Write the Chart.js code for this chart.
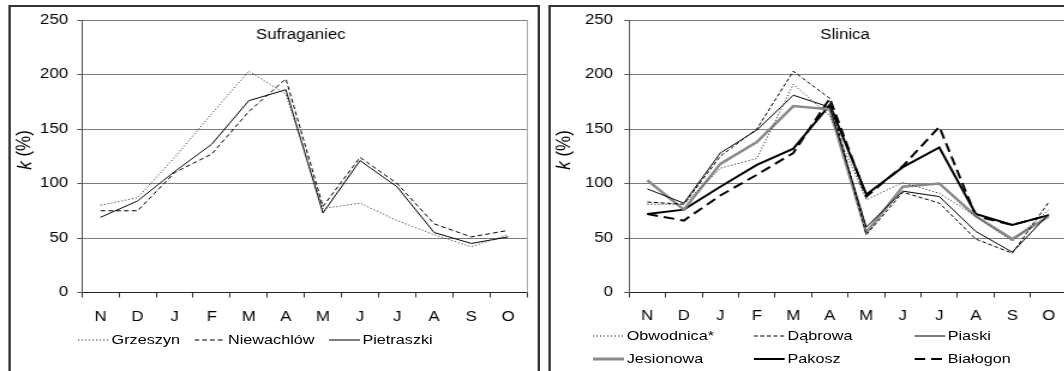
<!DOCTYPE html>
<html lang="pl">
<head>
<meta charset="UTF-8">
<title>k (%) - Sufraganiec, Slinica</title>
<script src="https://cdn.jsdelivr.net/npm/chart.js@4"></script>
<style>
    html, body {
        margin: 0;
        padding: 0;
        background: #fff;
        overflow: hidden;
        width: 1064px;
        height: 371px;
    }
    /* the source figure is stretched sideways, so the whole sheet is too */
    #sheet {
        position: absolute;
        left: 0;
        top: 0;
        width: 900px;
        height: 371px;
        transform: scaleX(1.2);
        transform-origin: 0 0;
        font-family: "Liberation Sans", Arial, sans-serif;
        font-size: 13.5px;
        color: #000;
    }
    .frame {
        position: absolute;
        box-sizing: border-box;
        top: 5px;
        height: 400px;
        border: 2px solid #333;
    }
    canvas { position: absolute; top: 0; }
    .leg {
        position: absolute;
        display: flex;
        align-items: center;
        white-space: nowrap;
        height: 16px;
        line-height: 16px;
    }
    .leg svg { display: block; margin-right: 2px; }
</style>
</head>
<body>
<div id="sheet">
    <div class="frame" style="left:6.5px; width:443px;"></div>
    <div class="frame" style="left:457px; width:500px;"></div>
    <canvas id="left" width="450" height="371" style="left:0;"></canvas>
    <canvas id="right" width="450" height="371" style="left:450px;"></canvas>
    <div id="legends"></div>
</div>

<script>
// months, November to October
const months = ['N', 'D', 'J', 'F', 'M', 'A', 'M', 'J', 'J', 'A', 'S', 'O'];
const yTicks = [0, 50, 100, 150, 200, 250];

// Sufraganiec
const leftNames = ['Grzeszyn', 'Niewachlów', 'Pietraszki'];
const grzeszyn   = [80, 87, 124, 164, 203, 182, 77, 82, 66, 53, 42, 53];
const niewachlow = [75, 75, 110, 127, 166, 196, 79, 124, 100, 63, 51, 57];
const pietraszki = [69, 84, 111, 136, 176, 186, 73, 121, 97, 55, 45, 51];

// Slinica
const rightNames = ['Obwodnica*', 'Dąbrowa', 'Piaski', 'Jesionowa', 'Pakosz', 'Białogon'];
const obwodnica = [81, 81, 114, 123, 191, 162, 85, 101, 91, 70, 47, 76];
const dabrowa   = [83, 81, 125, 150, 203, 178, 53, 92, 82, 49, 36, 83];
const piaski    = [95, 82, 128, 149, 181, 170, 60, 93, 88, 56, 37, 72];
const jesionowa = [103, 76, 118, 138, 171, 168, 55, 97, 100, 70, 49, 70];
const pakosz    = [72, 76, 97, 117, 132, 172, 90, 115, 133, 72, 62, 71];
const bialogon  = [72, 66, 89, 108, 128, 178, 88, 116, 152, 70, 62, 71];

const leftStyles = [
    { color: '#444', width: 1, dash: [1.2, 1.8] },
    { color: '#000', width: 1, dash: [4, 2.5] },
    { color: '#000', width: 1, dash: [] }
];
const rightStyles = [
    { color: '#333', width: 1, dash: [1.2, 1.8] },
    { color: '#000', width: 1, dash: [3.5, 2] },
    { color: '#000', width: 1, dash: [] },
    { color: '#8a8a8a', width: 2.5, dash: [] },
    { color: '#000', width: 2, dash: [] },
    { color: '#000', width: 2, dash: [9, 5] }
];

const FONT = '"Liberation Sans", Arial, sans-serif';

// station name, k (%) axis title, right edge of plot
const panelDecor = {
    id: 'panelDecor',
    afterDraw(chart, args, opts) {
        const ctx = chart.ctx;
        const a = chart.chartArea;
        ctx.save();
        ctx.strokeStyle = '#a8a8a8';
        ctx.lineWidth = 1;
        ctx.beginPath();
        ctx.moveTo(a.right + 0.5, a.top);
        ctx.lineTo(a.right + 0.5, a.bottom);
        ctx.stroke();

        ctx.fillStyle = '#000';
        ctx.font = '14px ' + FONT;
        ctx.textAlign = 'center';
        ctx.textBaseline = 'middle';
        ctx.fillText(opts.title, (a.left + a.right) / 2 + opts.titleDx, opts.titleY);

        // "k (%)" with italic k
        ctx.translate(opts.yTitleX, opts.yTitleY);
        ctx.rotate(-Math.PI / 2);
        ctx.textAlign = 'left';
        const fk = 'italic 17px ' + FONT;
        const fr = '17px ' + FONT;
        ctx.font = fk;
        const wk = ctx.measureText('k').width;
        ctx.font = fr;
        const wr = ctx.measureText(' (%)').width;
        const x0 = -(wk + wr) / 2;
        ctx.font = fk;
        ctx.fillText('k', x0, 0);
        ctx.font = fr;
        ctx.fillText(' (%)', x0 + wk, 0);
        ctx.restore();
    }
};

function makeChart(id, names, series, styles, geo) {
    const datasets = series.map((data, i) => ({
        label: names[i],
        data: data,
        borderColor: styles[i].color,
        borderWidth: styles[i].width,
        borderDash: styles[i].dash,
        pointRadius: 0,
        tension: 0,
        fill: false
    }));
    return new Chart(document.getElementById(id), {
        type: 'line',
        data: { labels: months, datasets: datasets },
        plugins: [panelDecor],
        options: {
            responsive: false,
            animation: false,
            events: [],
            layout: { padding: { left: 0, right: geo.padRight, top: 20, bottom: 38.5 } },
            plugins: {
                legend: { display: false },
                tooltip: { enabled: false },
                panelDecor: geo.decor
            },
            scales: {
                x: {
                    offset: true,
                    grid: { offset: true, drawOnChartArea: false, tickLength: 5, color: '#333' },
                    border: { color: '#222', width: 1 },
                    ticks: {
                        autoSkip: false, maxRotation: 0, padding: geo.xPad,
                        color: '#000', font: { family: FONT, size: 14 }
                    },
                    afterFit(scale) { scale.height = 40; }
                },
                y: {
                    min: 0,
                    max: 250,
                    afterBuildTicks(scale) { scale.ticks = yTicks.map(v => ({ value: v })); },
                    grid: { color: '#7b7b7b', lineWidth: 1, tickLength: 4, tickColor: '#555' },
                    border: { color: '#555', width: 1 },
                    ticks: { padding: geo.yPad, color: '#000', font: { family: FONT, size: 14 } },
                    afterFit(scale) { scale.width = geo.yWidth; }
                }
            }
        }
    });
}

makeChart('left', leftNames, [grzeszyn, niewachlow, pietraszki], leftStyles, {
    padRight: 11, yWidth: 68.3, yPad: 7.6, xPad: 11,
    decor: { title: 'Sufraganiec', titleDx: -3, titleY: 35.5, yTitleX: 20.8, yTitleY: 150 }
});
makeChart('right', rightNames, [obwodnica, dabrowa, piaski, jesionowa, pakosz, bialogon], rightStyles, {
    padRight: 10.8, yWidth: 74.2, yPad: 9.4, xPad: 10,
    decor: { title: 'Slinica', titleDx: -2.5, titleY: 35.5, yTitleX: 20, yTitleY: 150 }
});

// legends: line sample + name
function legendItem(name, st, left, cy) {
    const div = document.createElement('div');
    div.className = 'leg';
    div.style.left = left + 'px';
    div.style.top = (cy - 8) + 'px';
    const w = Math.max(st.width, 1) + (st.width > 2 ? 0.5 : 0);
    div.innerHTML =
        '<svg width="26" height="16"><line x1="0" y1="8" x2="26" y2="8" stroke="' + st.color +
        '" stroke-width="' + w + '" stroke-dasharray="' + (st.dash.length ? st.dash.join(' ') : 'none') +
        '"/></svg><span>' + name + '</span>';
    document.getElementById('legends').appendChild(div);
    return div;
}

// left legend: one row, spaced out
let lx = 65;
leftNames.forEach((n, i) => {
    const el = legendItem(n, leftStyles[i], lx, 340);
    lx += el.getBoundingClientRect().width / 1.2 + 12;
});

// right legend: three columns, two rows
const colX = [494.2, 628.3, 761.7];
const rowY = [336, 358.5];
rightNames.forEach((n, i) => {
    legendItem(n, rightStyles[i], colX[i % 3], rowY[Math.floor(i / 3)]);
});
</script>
</body>
</html>
